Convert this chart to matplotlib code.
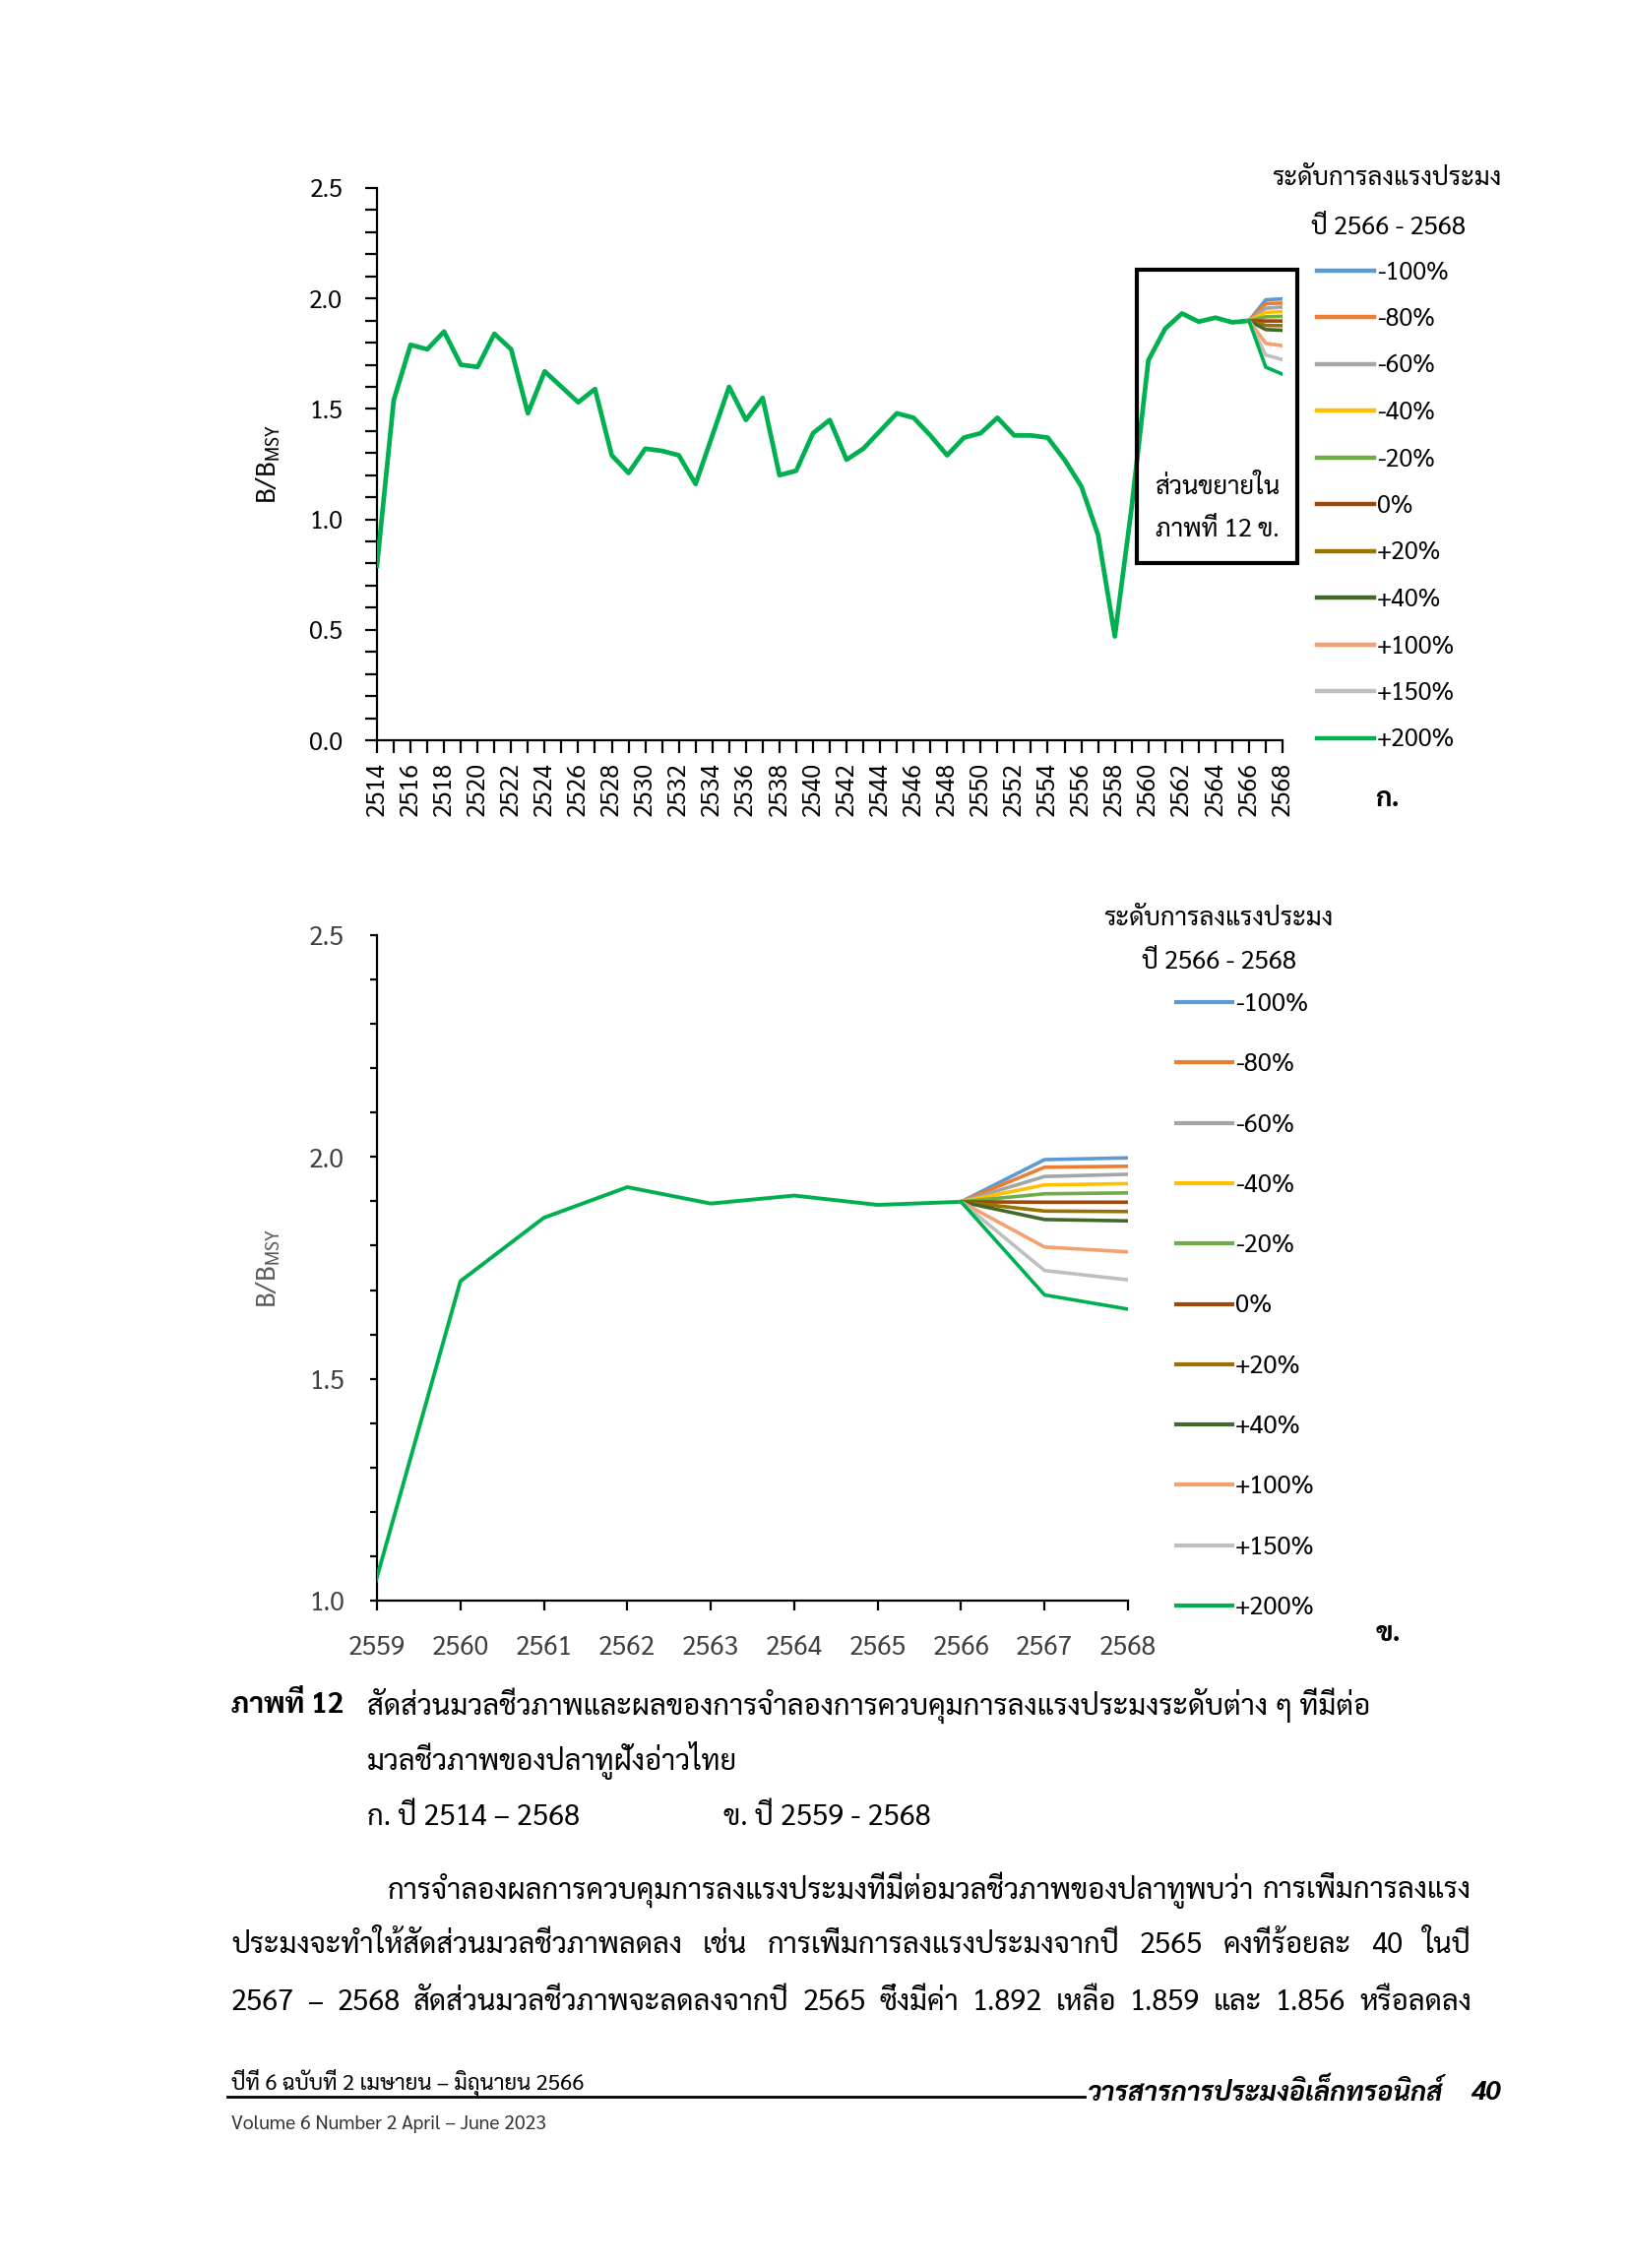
import matplotlib
matplotlib.use("Agg")
import matplotlib.pyplot as plt
from matplotlib.lines import Line2D
from matplotlib.patches import Rectangle
from matplotlib.ticker import MultipleLocator

plt.rcParams['font.family'] = ['Sarabun', 'IBM Plex Sans Thai', 'DejaVu Sans']
plt.rcParams['mathtext.fontset'] = 'custom'
plt.rcParams['mathtext.rm'] = 'Sarabun'

# B/Bmsy 2514-2566 (history)
years_hist = list(range(2514, 2567))
bmsy_hist = [0.79, 1.54, 1.79, 1.77, 1.85, 1.70, 1.69, 1.84, 1.77, 1.48,
             1.67, 1.60, 1.53, 1.59, 1.29, 1.21, 1.32, 1.31, 1.29, 1.16,
             1.38, 1.60, 1.45, 1.55, 1.20, 1.22, 1.39, 1.45, 1.27, 1.32,
             1.40, 1.48, 1.46, 1.38, 1.29, 1.37, 1.39, 1.46, 1.38, 1.38,
             1.37, 1.27, 1.15, 0.93, 0.47, 1.053, 1.720, 1.863, 1.932, 1.895,
             1.913, 1.892, 1.899]

# effort scenarios 2566-2568
years_scen = [2566, 2567, 2568]
scen_labels = ['-100%', '-80%', '-60%', '-40%', '-20%', '0%',
               '+20%', '+40%', '+100%', '+150%', '+200%']
scen_2567 = [1.994, 1.977, 1.956, 1.937, 1.917, 1.898, 1.878, 1.859, 1.797, 1.744, 1.689]
scen_2568 = [1.998, 1.979, 1.961, 1.940, 1.919, 1.898, 1.877, 1.856, 1.786, 1.723, 1.657]
scen_colors = ['#5B9BD5', '#ED7D31', '#A5A5A5', '#FFC000', '#70AD47', '#9E480E',
               '#997300', '#43682B', '#F4A070', '#BFBFBF', '#00B050']
hist_color = '#00B050'

legend_title1 = 'ระดับการลงแรงประมง'
legend_title2 = 'ปี 2566 - 2568'

W, H = 1654, 2304


def box(left, top, right, bottom):
    return [left / W, 1 - bottom / H, (right - left) / W, (bottom - top) / H]


def fy(py):
    return 1 - py / H


def draw_lines(ax, lw_hist, lw_scen):
    ax.plot(years_hist, bmsy_hist, color=hist_color, lw=lw_hist,
            solid_joinstyle='round', zorder=3)
    for lab, v1, v2, c in zip(scen_labels, scen_2567, scen_2568, scen_colors):
        ax.plot(years_scen, [bmsy_hist[-1], v1, v2], color=c, lw=lw_scen,
                label=lab, solid_joinstyle='round', zorder=3)


def style_axes(ax, tick_len_y, tick_len_x, color, fs):
    for s in ['top', 'right']:
        ax.spines[s].set_visible(False)
    for s in ['left', 'bottom']:
        ax.spines[s].set_linewidth(1.6)
        ax.spines[s].set_color('black')
    ax.tick_params(axis='y', which='both', direction='out', length=tick_len_y,
                   width=1.6, labelsize=fs, labelcolor=color)
    ax.tick_params(axis='x', which='both', direction='out', length=tick_len_x,
                   width=1.6, labelsize=fs, labelcolor=color)


def justify(fig, x0, x1, y, text, fs):
    # spread the words of one line between x0 and x1 (pixels)
    r = fig.canvas.get_renderer()
    words = text.split(' ')
    arts = [fig.text(0, fy(y), w, fontsize=fs, va='center') for w in words]
    widths = [a.get_window_extent(r).width for a in arts]
    gap = (x1 - x0 - sum(widths)) / max(len(words) - 1, 1)
    x = x0
    for a, wd in zip(arts, widths):
        a.set_x(x / W)
        x += wd + gap


fig = plt.figure(figsize=(W / 100, H / 100), dpi=100)

# ---- chart ก. 2514-2568
ax1 = fig.add_axes(box(383, 191, 1303, 752))
draw_lines(ax1, 3.4, 2.6)
ax1.set_xlim(2514, 2568)
ax1.set_ylim(0, 2.5)
ax1.yaxis.set_major_locator(MultipleLocator(0.5))
ax1.yaxis.set_minor_locator(MultipleLocator(0.1))
ax1.yaxis.set_major_formatter('{x:.1f}')
ax1.xaxis.set_major_locator(MultipleLocator(2))
ax1.xaxis.set_minor_locator(MultipleLocator(1))
style_axes(ax1, 9, 9, 'black', 18)
ax1.tick_params(axis='y', pad=16)
ax1.tick_params(axis='x', pad=7)
for lab in ax1.get_xticklabels():
    lab.set_rotation(90)
ax1.set_ylabel('B/B$_{\\mathrm{MSY}}$', fontsize=19.5)
ax1.yaxis.set_label_coords(-0.104, 0.5)

ax1.add_patch(Rectangle((2559.3, 0.80), 9.6, 1.33, fill=False, lw=3,
                        edgecolor='black', clip_on=False, zorder=4))
ax1.text(2564.1, 1.145, 'ส่วนขยายใน', ha='center', va='center', fontsize=18.5)
ax1.text(2564.1, 0.95, 'ภาพที่ 12 ข.', ha='center', va='center', fontsize=18.5)

leg1 = ax1.legend(loc='upper left', frameon=False,
                  bbox_to_anchor=(1315 / W, fy(242)), bbox_transform=fig.transFigure,
                  fontsize=18, handlelength=2.35, handletextpad=0.1, labelspacing=0.90)
for h in leg1.legend_handles:
    h.set_linewidth(3.2)
fig.text(1409 / W, fy(182), legend_title1, fontsize=18.5, ha='center', va='center')
fig.text(1410 / W, fy(232), legend_title2, fontsize=18.5, ha='center', va='center')
fig.text(1410 / W, fy(812), 'ก.', fontsize=20, fontweight='bold', ha='center', va='center')

# ---- chart ข. 2559-2568
ax2 = fig.add_axes(box(383, 950, 1146, 1626))
draw_lines(ax2, 2.8, 2.6)
ax2.set_xlim(2559, 2568)
ax2.set_ylim(1.0, 2.5)
ax2.yaxis.set_major_locator(MultipleLocator(0.5))
ax2.yaxis.set_minor_locator(MultipleLocator(0.1))
ax2.yaxis.set_major_formatter('{x:.1f}')
ax2.xaxis.set_major_locator(MultipleLocator(1))
style_axes(ax2, 5, 7, '#404040', 19)
ax2.tick_params(axis='y', pad=19)
ax2.tick_params(axis='x', pad=18)
ax2.set_ylabel('B/B$_{\\mathrm{MSY}}$', fontsize=19.5, color='#595959')
ax2.yaxis.set_label_coords(-0.126, 0.5)

leg2 = ax2.legend(loc='upper left', frameon=False,
                  bbox_to_anchor=(1172 / W, fy(985)), bbox_transform=fig.transFigure,
                  fontsize=18.4, handlelength=2.24, handletextpad=0.1, labelspacing=1.42)
for h in leg2.legend_handles:
    h.set_linewidth(3.0)
fig.text(1238 / W, fy(934), legend_title1, fontsize=18.5, ha='center', va='center')
fig.text(1238 / W, fy(977), legend_title2, fontsize=18.5, ha='center', va='center')
fig.text(1410 / W, fy(1660), 'ข.', fontsize=20, fontweight='bold', ha='center', va='center')

# ---- caption
fs = 21
fig.text(235 / W, fy(1733), 'ภาพที่ 12', fontsize=fs, fontweight='bold', va='center')
fig.text(373 / W, fy(1733),
         'สัดส่วนมวลชีวภาพและผลของการจำลองการควบคุมการลงแรงประมงระดับต่าง ๆ ที่มีต่อ',
         fontsize=fs, va='center')
fig.text(373 / W, fy(1789), 'มวลชีวภาพของปลาทูฝั่งอ่าวไทย', fontsize=fs, va='center')
fig.text(373 / W, fy(1847), 'ก. ปี 2514 – 2568', fontsize=fs, va='center')
fig.text(735 / W, fy(1847), 'ข. ปี 2559 - 2568', fontsize=fs, va='center')

# ---- body paragraph (justified)
para = [
    (394, 1920, 'การจำลองผลการควบคุมการลงแรงประมงที่มีต่อมวลชีวภาพของปลาทูพบว่า การเพิ่มการลงแรง'),
    (235, 1977, 'ประมงจะทำให้สัดส่วนมวลชีวภาพลดลง เช่น การเพิ่มการลงแรงประมงจากปี 2565 คงที่ร้อยละ 40 ในปี'),
    (235, 2035, '2567 – 2568 สัดส่วนมวลชีวภาพจะลดลงจากปี 2565 ซึ่งมีค่า 1.892 เหลือ 1.859 และ 1.856 หรือลดลง'),
]
for x, y, t in para:
    justify(fig, x, 1495, y, t, fs)

# ---- footer
fig.add_artist(Line2D([231 / W, 1102 / W], [fy(2130), fy(2130)], color='black', lw=2))
fig.text(235 / W, fy(2116), 'ปีที่ 6 ฉบับที่ 2 เมษายน – มิถุนายน 2566', fontsize=16, va='center')
fig.text(1466 / W, fy(2126), 'วารสารการประมงอิเล็กทรอนิกส์', fontsize=19.5,
         fontweight='bold', fontstyle='italic', ha='right', va='center')
fig.text(1525 / W, fy(2126), '40', fontsize=19.5,
         fontweight='bold', fontstyle='italic', ha='right', va='center')
fig.text(235 / W, fy(2158), 'Volume 6 Number 2 April – June 2023', fontsize=14,
         color='#333333', va='center')

fig.savefig('out.png', dpi=100)
